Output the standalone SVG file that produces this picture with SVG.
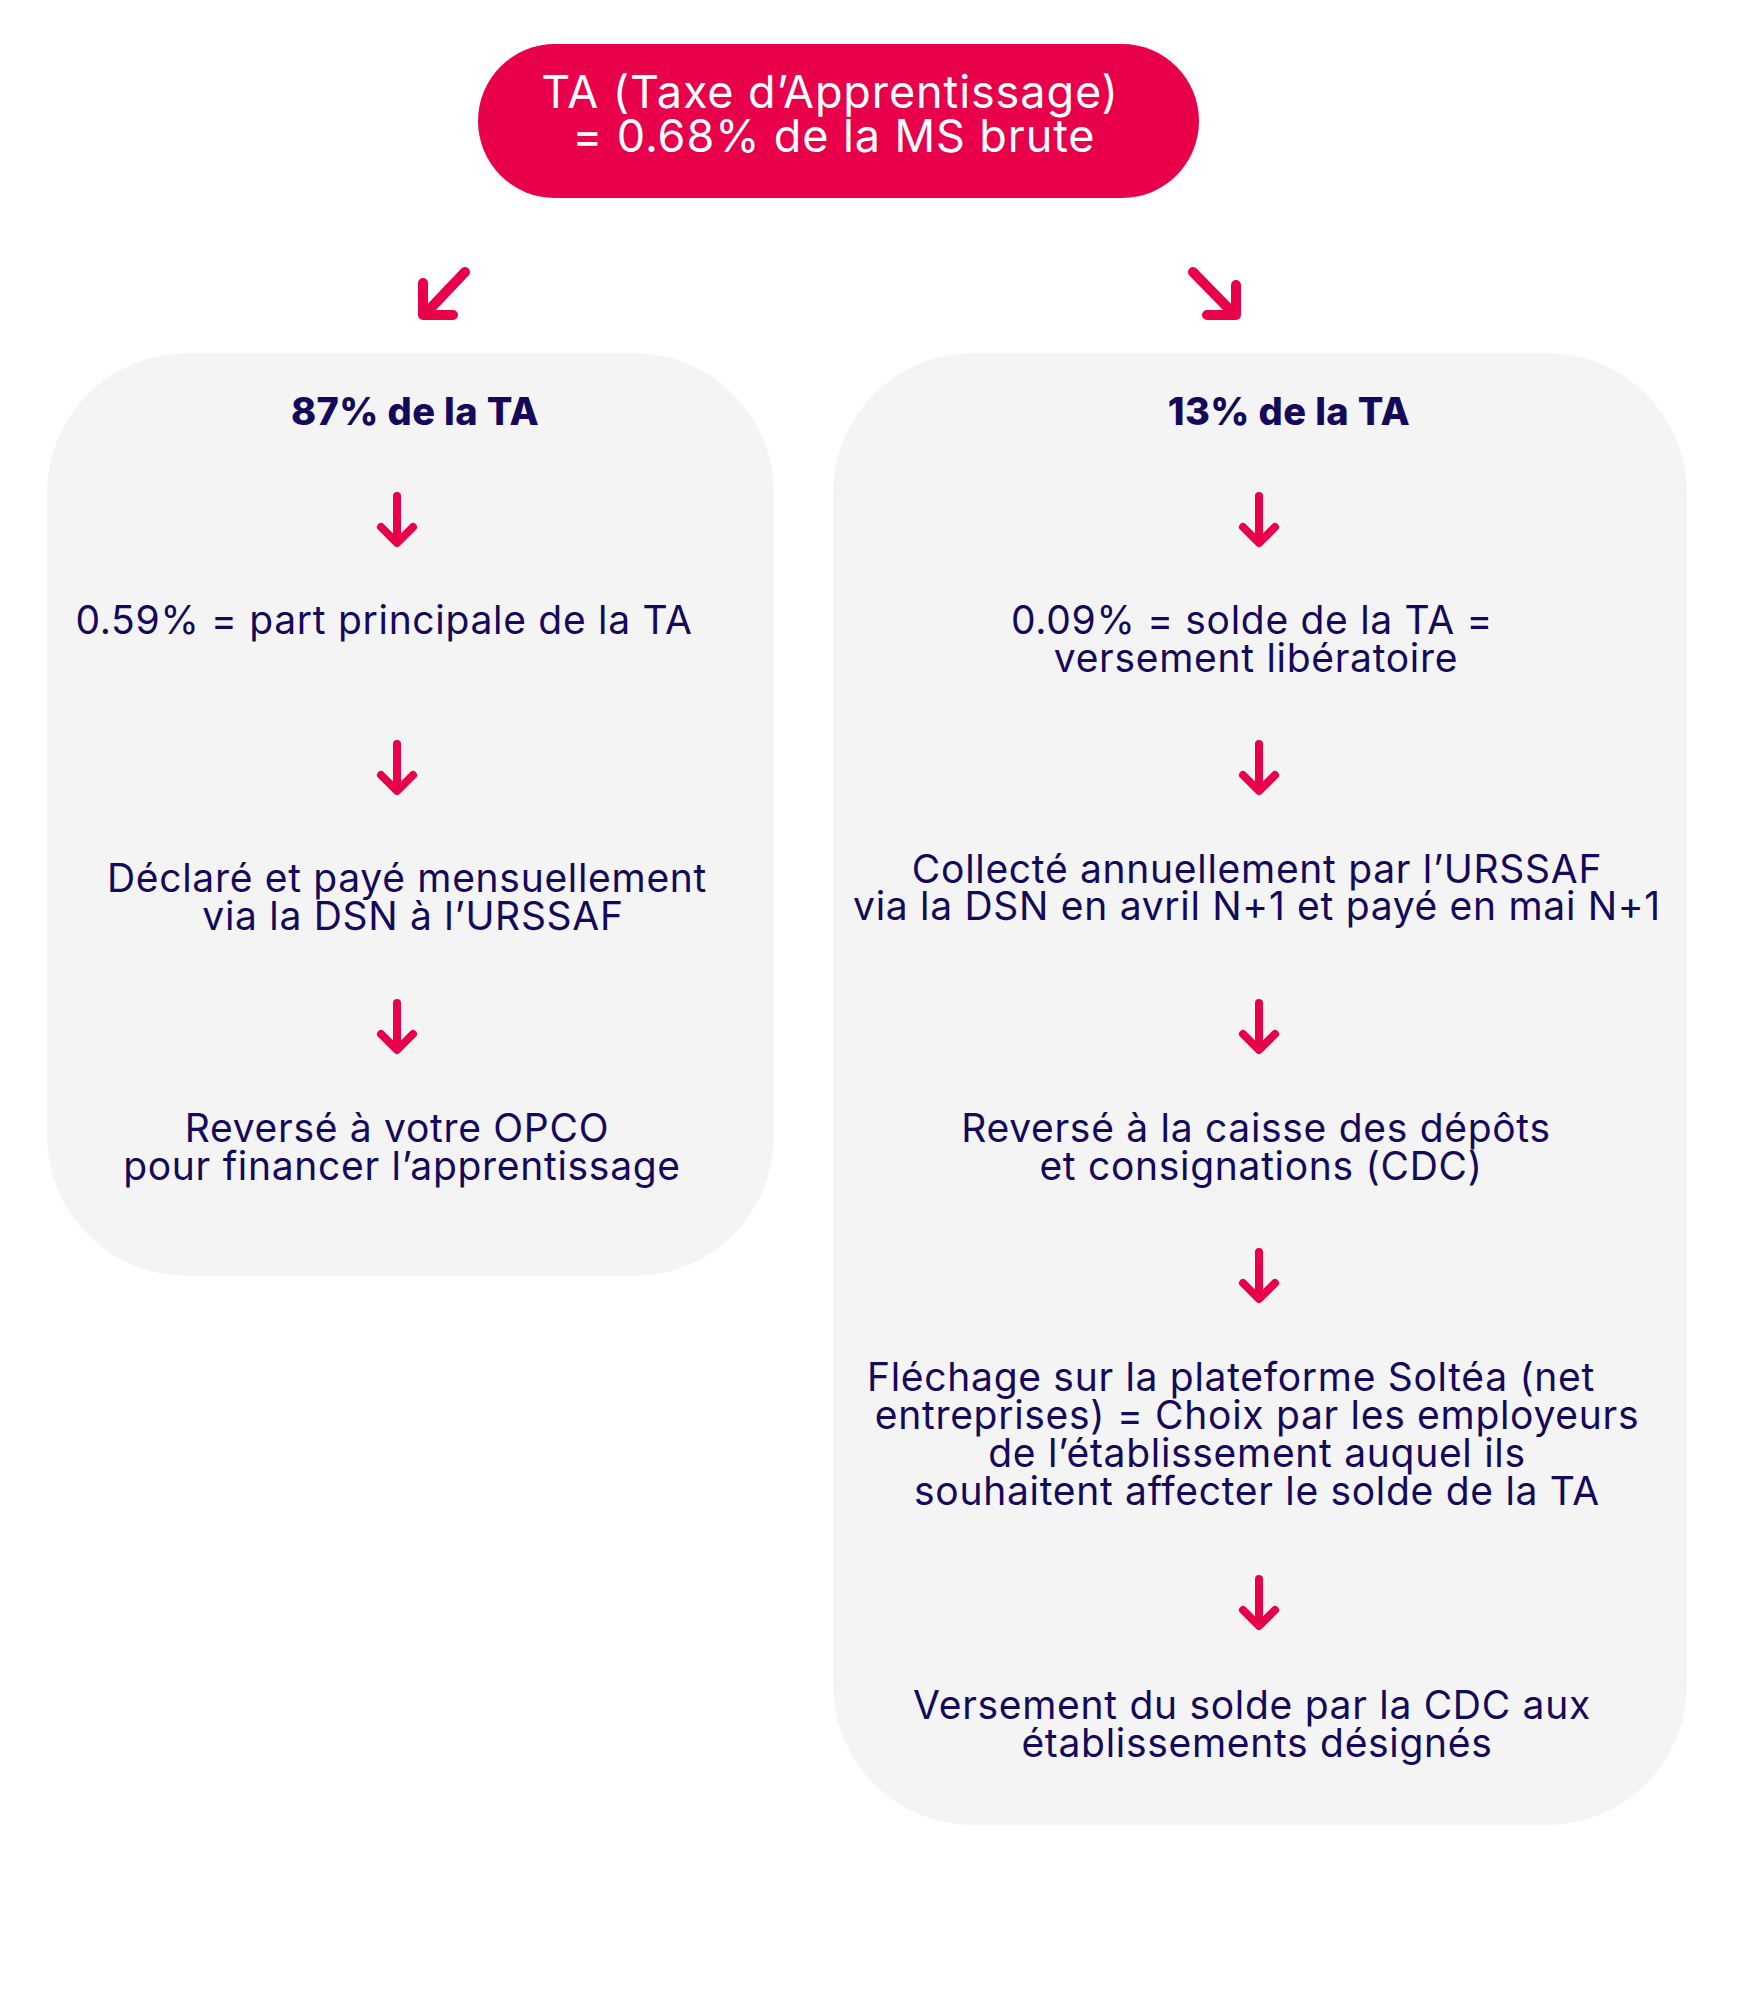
<svg xmlns="http://www.w3.org/2000/svg" width="1750" height="2000" viewBox="0 0 1750 2000">
<defs>
<style>
.panel{fill:#f4f4f4}
.t{font-family:Inter,"Noto Sans","Liberation Sans",sans-serif;font-size:39px;letter-spacing:0.7px;fill:#14095a;text-anchor:middle}
.b{font-family:Inter,"Noto Sans","Liberation Sans",sans-serif;font-size:38px;letter-spacing:0.4px;font-weight:800;fill:#14095a;text-anchor:middle}
.w{font-family:Inter,"Noto Sans","Liberation Sans",sans-serif;font-size:45px;letter-spacing:0.9px;fill:#ffffff;text-anchor:middle}
.arr{fill:none;stroke:#e8004b;stroke-width:8;stroke-linecap:round;stroke-linejoin:round}
.darr{fill:none;stroke:#e8004b;stroke-width:10;stroke-linecap:round;stroke-linejoin:round}
</style>
</defs>
<rect width="1750" height="2000" fill="#ffffff"/>
<g id="top">
<rect x="478" y="44" width="721" height="154" rx="77" ry="77" fill="#e8004b"/>
<text class="w" x="830" y="108">TA (Taxe d’Apprentissage)</text>
<text class="w" x="834" y="152">= 0.68% de la MS brute</text>
</g>
<g id="left-panel">
<rect class="panel" x="47" y="353" width="727" height="923" rx="140" ry="140"/>
<text class="b" x="415" y="425">87% de la TA</text>
<text class="t" x="384" y="634">0.59% = part principale de la TA</text>
<text class="t" x="407" y="892">Déclaré et payé mensuellement</text>
<text class="t" x="413" y="930">via la DSN à l’URSSAF</text>
<text class="t" x="397" y="1142">Reversé à votre OPCO</text>
<text class="t" x="402" y="1180">pour financer l’apprentissage</text>
</g>
<g id="right-panel">
<rect class="panel" x="833" y="353" width="854" height="1472" rx="140" ry="140"/>
<text class="b" x="1289" y="425">13% de la TA</text>
<text class="t" x="1252" y="634">0.09% = solde de la TA =</text>
<text class="t" x="1256" y="672">versement libératoire</text>
<text class="t" x="1257" y="883">Collecté annuellement par l’URSSAF</text>
<text class="t" x="1257" y="920">via la DSN en avril N+1 et payé en mai N+1</text>
<text class="t" x="1256" y="1142">Reversé à la caisse des dépôts</text>
<text class="t" x="1261" y="1180">et consignations (CDC)</text>
<text class="t" x="1231" y="1391">Fléchage sur la plateforme Soltéa (net</text>
<text class="t" x="1257" y="1429">entreprises) = Choix par les employeurs</text>
<text class="t" x="1257" y="1467">de l’établissement auquel ils</text>
<text class="t" x="1257" y="1505">souhaitent affecter le solde de la TA</text>
<text class="t" x="1252" y="1719">Versement du solde par la CDC aux</text>
<text class="t" x="1257" y="1757">établissements désignés</text>
</g>
<g id="connectors">
<path class="darr" d="M465 272 L426 313 M423 283 L423 315 L453 315"/>
<path class="darr" d="M1193 272 L1233 313 M1236 285 L1236 315 L1207 315"/>
<path class="arr" d="M397 496 V541 M381 527 L397 543 L413 527"/>
<path class="arr" d="M397 744 V789 M381 775 L397 791 L413 775"/>
<path class="arr" d="M397 1003 V1048 M381 1034 L397 1050 L413 1034"/>
<path class="arr" d="M1259 496 V541 M1243 527 L1259 543 L1275 527"/>
<path class="arr" d="M1259 744 V789 M1243 775 L1259 791 L1275 775"/>
<path class="arr" d="M1259 1003 V1048 M1243 1034 L1259 1050 L1275 1034"/>
<path class="arr" d="M1259 1252 V1297 M1243 1283 L1259 1299 L1275 1283"/>
<path class="arr" d="M1259 1579 V1624 M1243 1610 L1259 1626 L1275 1610"/>
</g>
</svg>
